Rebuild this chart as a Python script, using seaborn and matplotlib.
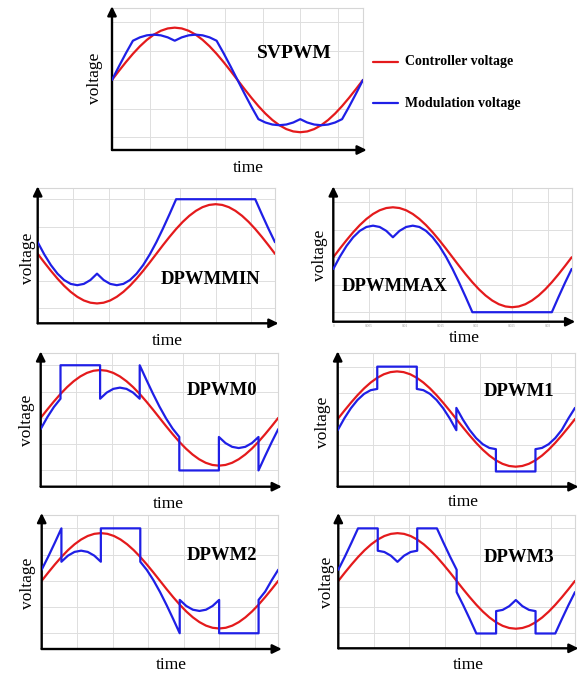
import matplotlib
matplotlib.use("Agg")
import matplotlib.pyplot as plt
from matplotlib.lines import Line2D
import seaborn as sns
import pandas as pd

sns.set_theme(style="white")
plt.rcParams["font.family"] = ["Liberation Serif", "DejaVu Serif"]
plt.rcParams["text.color"] = "black"

# ---------------- data (phase angle in degrees, voltage in p.u.) ----------------
series_names = ["Controller voltage", "Modulation voltage"]
panel_titles = ["SVPWM", "DPWMMIN", "DPWMMAX", "DPWM0", "DPWM1", "DPWM2", "DPWM3"]
x_label = "time"
y_label = "voltage"
time_tick_labels = ["0", "0.005", "0.01", "0.015", "0.02", "0.025", "0.03"]

deg = [0, 10, 20, 30, 40, 50, 60, 70, 80, 90, 100, 110, 120, 130, 140, 150, 160, 170, 180,
       190, 200, 210, 220, 230, 240, 250, 260, 270, 280, 290, 300, 310, 320, 330, 340, 350, 360]

red_sine = [0, .174, .342, .5, .643, .766, .866, .94, .985, 1, .985, .94, .866, .766, .643, .5, .342, .174, 0,
            -.174, -.342, -.5, -.643, -.766, -.866, -.94, -.985, -1, -.985, -.94, -.866, -.766, -.643, -.5,
            -.342, -.174, 0]
red_dpwmmin = [0, -.174, -.342, -.5, -.643, -.766, -.866, -.94, -.985, -1, -.985, -.94, -.866, -.766, -.643,
               -.5, -.342, -.174, 0, .174, .342, .5, .643, .766, .866, .94, .985, 1, .985, .94, .866, .766,
               .643, .5, .342, .174, 0]

svpwm_x = deg
svpwm_y = [0, .261, .513, .75, .814, .853, .866, .853, .814, .75, .814, .853, .866, .853, .814, .75, .513, .261, 0,
           -.261, -.513, -.75, -.814, -.853, -.866, -.853, -.814, -.75, -.814, -.853, -.866, -.853, -.814, -.75,
           -.513, -.261, 0]

dpwmmin_x = [0, 10, 20, 30, 40, 50, 60, 70, 80, 90, 100, 110, 120, 130, 140, 150, 160, 170, 180, 190, 200, 210,
             330, 340, 350, 360]
dpwmmin_y = [.234, -.013, -.227, -.4, -.528, -.606, -.632, -.606, -.528, -.4, -.528, -.606, -.632, -.606, -.528,
             -.4, -.227, -.013, .234, .508, .799, 1.1, 1.1, .799, .508, .234]

dpwmmax_x = [0, 10, 20, 30, 40, 50, 60, 70, 80, 90, 100, 110, 120, 130, 140, 150, 160, 170, 180, 190, 200, 210,
             330, 340, 350, 360]
dpwmmax_y = [-.234, .013, .227, .4, .528, .606, .632, .606, .528, .4, .528, .606, .632, .606, .528, .4, .227, .013,
             -.234, -.508, -.799, -1.1, -1.1, -.799, -.508, -.234]

dpwm0_x = [0, 10, 20, 30, 30, 90, 90, 100, 110, 120, 130, 140, 150, 150, 160, 170, 180, 190, 200, 210, 210, 270,
           270, 280, 290, 300, 310, 320, 330, 330, 340, 350, 360]
dpwm0_y = [-.234, .013, .227, .4, 1.1, 1.1, .4, .528, .606, .632, .606, .528, .4, 1.1, .799, .508, .234, -.013,
           -.227, -.4, -1.1, -1.1, -.4, -.528, -.606, -.632, -.606, -.528, -.4, -1.1, -.799, -.508, -.234]

dpwm1_x = [0, 10, 20, 30, 40, 50, 60, 60, 120, 120, 130, 140, 150, 160, 170, 180, 180, 190, 200, 210, 220, 230,
           240, 240, 300, 300, 310, 320, 330, 340, 350, 360]
dpwm1_y = [-.234, .013, .227, .4, .528, .606, .632, 1.1, 1.1, .632, .606, .528, .4, .227, .013, -.234, .234,
           -.013, -.227, -.4, -.528, -.606, -.632, -1.1, -1.1, -.632, -.606, -.528, -.4, -.227, .013, .234]

dpwm2_x = [0, 10, 20, 30, 30, 40, 50, 60, 70, 80, 90, 90, 150, 150, 160, 170, 180, 190, 200, 210, 210, 220, 230,
           240, 250, 260, 270, 270, 330, 330, 340, 350, 360]
dpwm2_y = [.234, .508, .799, 1.1, .4, .528, .606, .632, .606, .528, .4, 1.1, 1.1, .4, .227, .013, -.234, -.508,
           -.799, -1.1, -.4, -.528, -.606, -.632, -.606, -.528, -.4, -1.1, -1.1, -.4, -.227, .013, .234]

dpwm3_x = [0, 10, 20, 30, 60, 60, 70, 80, 90, 100, 110, 120, 120, 150, 160, 170, 180, 180, 190, 200, 210, 240,
           240, 250, 260, 270, 280, 290, 300, 300, 330, 340, 350, 360]
dpwm3_y = [.234, .508, .799, 1.1, 1.1, .632, .606, .528, .4, .528, .606, .632, 1.1, 1.1, .799, .508, .234, -.234,
           -.508, -.799, -1.1, -1.1, -.632, -.606, -.528, -.4, -.528, -.606, -.632, -1.1, -1.1, -.799, -.508, -.234]

grid_deg = [54, 108, 162, 216, 270, 324]
grid_volt = [-1.1, -0.55, 0, 0.55, 1.1]

# ---------------- layout ----------------
W, H = 582, 679
RED = "#e41a1c"
BLUE = "#1f1fe6"

fig = plt.figure(figsize=(W / 100, H / 100), dpi=100)

panels = [
    # red y, blue x, blue y, (left, right, top, bottom) px, ylim, ylabel pos, xlabel pos, title pos, title size
    (red_sine, svpwm_x, svpwm_y, (112, 363, 8.3, 150), (-1.34, 1.37), (95, 78), (248, 168), (294, 53), 14),
    (red_dpwmmin, dpwmmin_x, dpwmmin_y, (37.7, 275, 188.3, 323.3), (-1.40, 1.32), (28, 258), (167, 341), (211, 279), 13.5),
    (red_sine, dpwmmax_x, dpwmmax_y, (333.3, 571.7, 188.3, 321.7), (-1.29, 1.38), (320, 255), (464, 338), (395, 286), 13.5),
    (red_sine, dpwm0_x, dpwm0_y, (40.7, 278.3, 353.3, 486.7), (-1.44, 1.35), (27, 420), (168, 504), (222, 391), 13.5),
    (red_sine, dpwm1_x, dpwm1_y, (337.7, 575, 353.3, 486.7), (-1.42, 1.38), (323, 422), (463, 502), (519, 392), 13.5),
    (red_sine, dpwm2_x, dpwm2_y, (41.7, 278.3, 515, 649), (-1.43, 1.38), (28, 583), (171, 665), (222, 555), 13.5),
    (red_sine, dpwm3_x, dpwm3_y, (338.3, 575, 515, 648.3), (-1.41, 1.38), (327, 582), (468, 665), (519, 557), 13.5),
]

for i, (ry, bx, by, (l, r, t, b), ylim, ylp, xlp, tp, tfs) in enumerate(panels):
    ax = fig.add_axes([l / W, 1 - b / H, (r - l) / W, (b - t) / H])
    red_df = pd.DataFrame({"deg": deg, "v": ry})
    blue_df = pd.DataFrame({"deg": bx, "v": by})
    sns.lineplot(data=red_df, x="deg", y="v", ax=ax, color=RED, lw=1.6,
                 estimator=None, sort=False, zorder=3)
    sns.lineplot(data=blue_df, x="deg", y="v", ax=ax, color=BLUE, lw=1.6,
                 estimator=None, sort=False, zorder=4)
    ax.set_xlim(0, 360)
    ax.set_ylim(*ylim)
    ax.set_xticks(grid_deg)
    ax.set_yticks(grid_volt)
    ax.grid(True, color="#dedede", lw=0.7)
    ax.set_xlabel("")
    ax.set_ylabel("")
    ax.tick_params(length=0, labelleft=False, labelbottom=False)
    for s in ("top", "right"):
        ax.spines[s].set_color("#d6d6d6")
        ax.spines[s].set_linewidth(0.8)
    for s in ("left", "bottom"):
        ax.spines[s].set_visible(False)
    ap = dict(arrowstyle="-|>,head_length=0.45,head_width=0.22", color="black", lw=1.7,
              shrinkA=0, shrinkB=0)
    ax.annotate("", xy=(1.015, 0), xytext=(0, 0), xycoords="axes fraction",
                arrowprops=ap, annotation_clip=False)
    ax.annotate("", xy=(0, 1.015), xytext=(0, 0), xycoords="axes fraction",
                arrowprops=ap, annotation_clip=False)
    if panel_titles[i] == "DPWMMAX":
        for d, lab in zip([0] + grid_deg, time_tick_labels):
            ax.text(d, -0.02, lab, transform=ax.get_xaxis_transform(), ha="center", va="top",
                    fontsize=2.5, color="#999999")
    fig.text(ylp[0] / W, 1 - ylp[1] / H, y_label, rotation=90, ha="center", va="center", fontsize=12.5)
    fig.text(xlp[0] / W, 1 - xlp[1] / H, x_label, ha="center", va="center", fontsize=12.5)
    fig.text(tp[0] / W, 1 - tp[1] / H, panel_titles[i], ha="center", va="center",
             fontsize=tfs, fontweight="bold")

# legend
for (yy, col, name) in [(62, RED, series_names[0]), (103, BLUE, series_names[1])]:
    fig.add_artist(Line2D([373 / W, 398 / W], [1 - yy / H, 1 - yy / H], color=col, lw=1.6,
                          transform=fig.transFigure))
    fig.text(405 / W, 1 - yy / H, name, ha="left", va="center", fontsize=10, fontweight="bold")

fig.savefig("out.png", dpi=100)
